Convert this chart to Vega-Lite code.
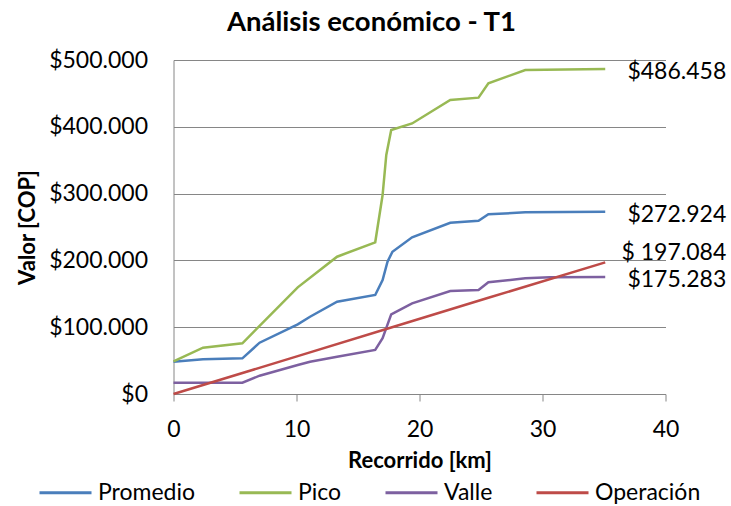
{
  "$schema": "https://vega.github.io/schema/vega-lite/v6.json",
  "width": 492,
  "height": 334,
  "autosize": {"type": "none"},
  "padding": {"left": 173.5, "top": 60, "right": 65.5, "bottom": 112},
  "config": {"view": {"stroke": null}, "font": "Lato", "background": "white"},
  "title": {"text": "Análisis económico - T1", "font": "Lato", "fontSize": 27.5, "fontWeight": "bold", "color": "black", "anchor": "middle", "dx": -48, "offset": 13},
  "datasets": {
    "series": [
      {"serie": "Promedio", "km": 0, "valor": 48400},
      {"serie": "Promedio", "km": 2.4, "valor": 51900},
      {"serie": "Promedio", "km": 5.6, "valor": 53400},
      {"serie": "Promedio", "km": 7.0, "valor": 76800},
      {"serie": "Promedio", "km": 10.1, "valor": 104300},
      {"serie": "Promedio", "km": 11.1, "valor": 115700},
      {"serie": "Promedio", "km": 13.3, "valor": 138200},
      {"serie": "Promedio", "km": 16.4, "valor": 148200},
      {"serie": "Promedio", "km": 17.0, "valor": 170700},
      {"serie": "Promedio", "km": 17.4, "valor": 198000},
      {"serie": "Promedio", "km": 17.8, "valor": 213000},
      {"serie": "Promedio", "km": 19.4, "valor": 234500},
      {"serie": "Promedio", "km": 22.5, "valor": 256400},
      {"serie": "Promedio", "km": 24.8, "valor": 259400},
      {"serie": "Promedio", "km": 25.6, "valor": 269000},
      {"serie": "Promedio", "km": 28.6, "valor": 272000},
      {"serie": "Promedio", "km": 35.1, "valor": 272924},
      {"serie": "Pico", "km": 0, "valor": 49000},
      {"serie": "Pico", "km": 2.4, "valor": 69300},
      {"serie": "Pico", "km": 5.6, "valor": 75900},
      {"serie": "Pico", "km": 10.1, "valor": 159700},
      {"serie": "Pico", "km": 13.3, "valor": 205500},
      {"serie": "Pico", "km": 16.4, "valor": 227100},
      {"serie": "Pico", "km": 17.0, "valor": 297900},
      {"serie": "Pico", "km": 17.3, "valor": 357800},
      {"serie": "Pico", "km": 17.7, "valor": 395200},
      {"serie": "Pico", "km": 19.4, "valor": 405000},
      {"serie": "Pico", "km": 22.5, "valor": 440100},
      {"serie": "Pico", "km": 24.8, "valor": 443600},
      {"serie": "Pico", "km": 25.6, "valor": 465100},
      {"serie": "Pico", "km": 28.6, "valor": 485000},
      {"serie": "Pico", "km": 35.1, "valor": 486458},
      {"serie": "Valle", "km": 0, "valor": 16900},
      {"serie": "Valle", "km": 5.6, "valor": 16900},
      {"serie": "Valle", "km": 7.0, "valor": 27400},
      {"serie": "Valle", "km": 10.1, "valor": 43400},
      {"serie": "Valle", "km": 11.1, "valor": 48400},
      {"serie": "Valle", "km": 13.3, "valor": 55800},
      {"serie": "Valle", "km": 16.4, "valor": 65900},
      {"serie": "Valle", "km": 17.0, "valor": 83400},
      {"serie": "Valle", "km": 17.7, "valor": 119300},
      {"serie": "Valle", "km": 19.4, "valor": 135800},
      {"serie": "Valle", "km": 22.5, "valor": 154200},
      {"serie": "Valle", "km": 24.8, "valor": 155700},
      {"serie": "Valle", "km": 25.6, "valor": 167200},
      {"serie": "Valle", "km": 28.6, "valor": 173200},
      {"serie": "Valle", "km": 30.6, "valor": 174800},
      {"serie": "Valle", "km": 35.1, "valor": 175283},
      {"serie": "Operación", "km": 0, "valor": 0},
      {"serie": "Operación", "km": 10.1, "valor": 56700},
      {"serie": "Operación", "km": 17.7, "valor": 99600},
      {"serie": "Operación", "km": 25.6, "valor": 144000},
      {"serie": "Operación", "km": 35.1, "valor": 197084}
    ],
    "labels": [
      {"serie": "Pico", "km": 35.1, "valor": 486458, "texto": "$486.458"},
      {"serie": "Promedio", "km": 35.1, "valor": 272924, "texto": "$272.924"},
      {"serie": "Operación", "km": 35.1, "valor": 197084, "texto": "$ 197.084"},
      {"serie": "Valle", "km": 35.1, "valor": 175283, "texto": "$175.283"}
    ]
  },
  "layer": [
    {
      "data": {"name": "series"},
      "mark": {"type": "line", "strokeWidth": 2.5, "clip": false},
      "encoding": {
        "x": {"field": "km", "type": "quantitative",
          "scale": {"domain": [0, 40], "nice": false, "zero": false},
          "axis": {"values": [0, 10, 20, 30, 40], "grid": false, "tickSize": 7, "tickColor": "#868686", "domainColor": "#868686",
            "labelFlush": false,
            "labelFont": "Lato", "labelFontSize": 23, "labelColor": "black", "labelPadding": 17,
            "title": "Recorrido [km]", "titleFont": "Lato", "titleFontSize": 22, "titleFontWeight": "bold", "titleColor": "black", "titlePadding": 9}},
        "y": {"field": "valor", "type": "quantitative",
          "scale": {"domain": [0, 500000], "nice": false},
          "axis": {"values": [0, 100000, 200000, 300000, 400000, 500000], "grid": true, "gridColor": "#868686", "gridWidth": 1,
            "tickSize": 0, "domainColor": "#868686", "labelFlush": false,
            "labelExpr": "'$' + replace(format(datum.value, ',.0f'), ',', '.')",
            "labelFont": "Lato", "labelFontSize": 23, "labelColor": "black", "labelPadding": 26,
            "title": "Valor [COP]", "titleFont": "Lato", "titleFontSize": 22, "titleFontWeight": "bold", "titleColor": "black", "titlePadding": 9}},
        "color": {"field": "serie", "type": "nominal",
          "scale": {"domain": ["Promedio", "Pico", "Valle", "Operación"], "range": ["#4A7EBB", "#98B954", "#7D60A0", "#BE4B48"]},
          "legend": {"orient": "none", "legendX": -135.5, "legendY": 405, "direction": "horizontal", "title": null,
            "symbolType": "stroke", "symbolSize": 2704, "symbolStrokeWidth": 3,
            "labelFont": "Lato", "labelFontSize": 23, "labelColor": "black", "labelOffset": 5, "columnPadding": 37}}
      }
    },
    {
      "data": {"name": "labels"},
      "transform": [{"filter": "datum.serie != 'Operación'"}],
      "mark": {"type": "text", "align": "right", "baseline": "middle", "dx": 121, "dy": 3, "font": "Lato", "fontSize": 23, "color": "black", "clip": false},
      "encoding": {
        "x": {"field": "km", "type": "quantitative"},
        "y": {"field": "valor", "type": "quantitative"},
        "text": {"field": "texto"}
      }
    },
    {
      "data": {"name": "labels"},
      "transform": [{"filter": "datum.serie == 'Operación'"}],
      "mark": {"type": "text", "align": "right", "baseline": "middle", "dx": 121, "dy": -9, "font": "Lato", "fontSize": 23, "color": "black", "clip": false},
      "encoding": {
        "x": {"field": "km", "type": "quantitative"},
        "y": {"field": "valor", "type": "quantitative"},
        "text": {"field": "texto"}
      }
    }
  ]
}
